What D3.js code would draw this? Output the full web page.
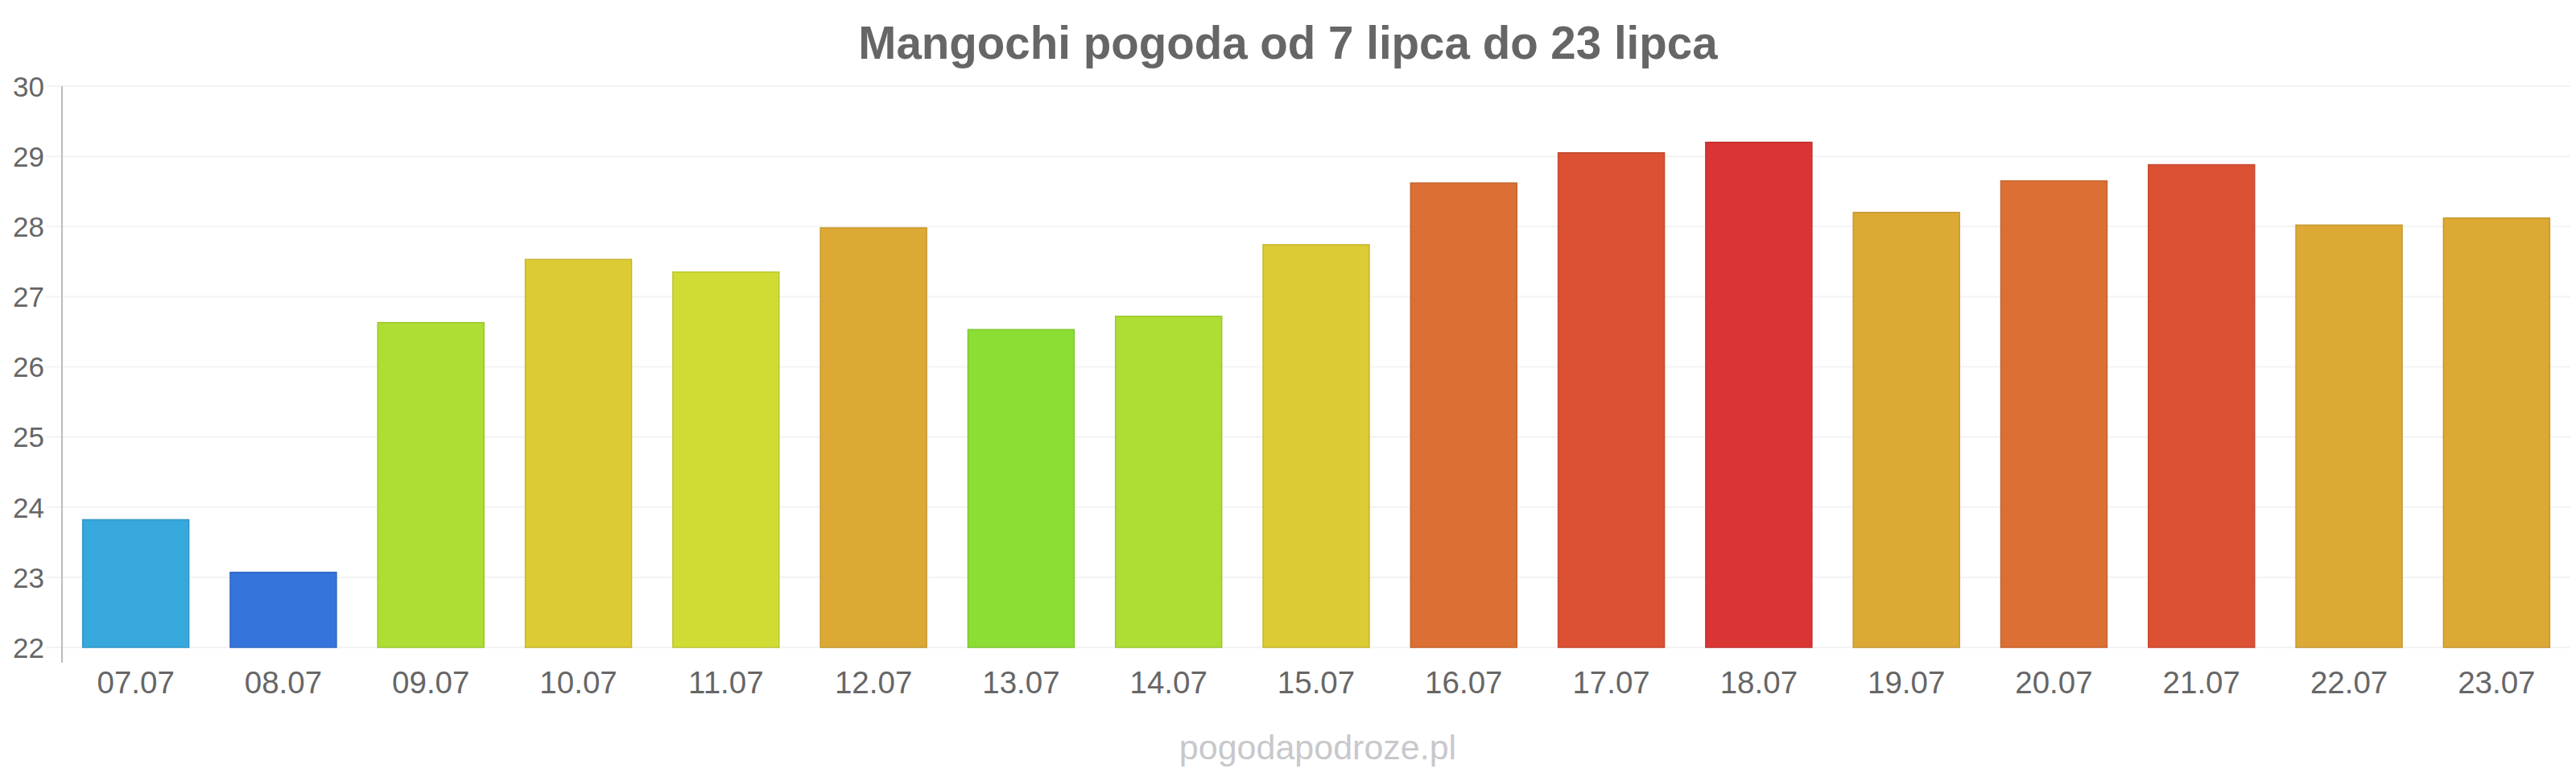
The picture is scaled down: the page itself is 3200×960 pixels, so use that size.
<!DOCTYPE html>
<html>
<head>
<meta charset="utf-8">
<script src="https://cdn.jsdelivr.net/npm/d3@7"></script>
<style>
  body { margin: 0; background: #fff; }
  text { font-family: "Liberation Sans", Arial, sans-serif; }
</style>
</head>
<body>
<div id="chart"></div>
<script>
const width = 3200, height = 960;
const margin = {top: 107, right: 7, bottom: 156, left: 77};

const days = ["07.07", "08.07", "09.07", "10.07", "11.07", "12.07", "13.07", "14.07", "15.07",
              "16.07", "17.07", "18.07", "19.07", "20.07", "21.07", "22.07", "23.07"];
const temps = [23.82, 23.07, 26.63, 27.53, 27.35, 27.98, 26.53, 26.72, 27.74,
               28.62, 29.05, 29.2, 28.2, 28.65, 28.88, 28.02, 28.12];
const colors = ["#36a8dc", "#3574db", "#aedd34", "#dccb34", "#d0dc34", "#dca934", "#8cdd34", "#aedd34", "#dccb34",
                "#dc6f34", "#dc5134", "#da3434", "#dca934", "#dc6f34", "#dc5134", "#dca934", "#dca934"];
const yTicks = [22, 23, 24, 25, 26, 27, 28, 29, 30];

let svg = d3.select("#chart")
    .append("svg")
    .attr("width", width)
    .attr("height", height);

let x = d3.scaleBand()
    .domain(days)
    .range([margin.left, width - margin.right])
    .paddingInner(0.28)
    .paddingOuter(0.14);

let y = d3.scaleLinear()
    .domain([22, 30])
    .range([height - margin.bottom, margin.top]);

// grid lines
svg.append("g")
    .selectAll("line")
    .data(yTicks)
    .enter()
    .append("line")
    .attr("x1", margin.left - 20)
    .attr("x2", width - margin.right)
    .attr("y1", d => y(d))
    .attr("y2", d => y(d))
    .attr("stroke", "#f3f3f3")
    .attr("stroke-width", 2);

// y axis
let yAxis = svg.append("g")
    .attr("transform", `translate(${margin.left - 20}, 0)`)
    .call(d3.axisLeft(y).tickValues(yTicks).tickSize(0).tickPadding(2));
yAxis.select(".domain").remove();
yAxis.selectAll("text")
    .attr("fill", "#666")
    .style("font-size", "35px")
    .attr("dy", "0.35em");

svg.append("line")
    .attr("x1", margin.left)
    .attr("x2", margin.left)
    .attr("y1", margin.top)
    .attr("y2", height - margin.bottom + 19)
    .attr("stroke", "#bbb")
    .attr("stroke-width", 2);

// bars
svg.append("g")
    .selectAll("rect")
    .data(days)
    .enter()
    .append("rect")
    .attr("x", d => x(d))
    .attr("y", (d, i) => y(temps[i]))
    .attr("width", x.bandwidth())
    .attr("height", (d, i) => y(22) - y(temps[i]))
    .attr("fill", (d, i) => colors[i])
    .attr("stroke", (d, i) => d3.color(colors[i]).darker(0.3))
    .attr("stroke-width", 1.5);

// x axis labels
let xAxis = svg.append("g")
    .attr("transform", `translate(0, ${y(22)})`)
    .call(d3.axisBottom(x).tickSize(0).tickPadding(30));
xAxis.select(".domain").remove();
xAxis.selectAll("text")
    .attr("fill", "#666")
    .style("font-size", "38.5px");

svg.append("text")
    .attr("x", 1600)
    .attr("y", 73)
    .attr("text-anchor", "middle")
    .attr("fill", "#666")
    .style("font-size", "56.5px")
    .style("font-weight", "bold")
    .text("Mangochi pogoda od 7 lipca do 23 lipca");

svg.append("text")
    .attr("x", 1637)
    .attr("y", 943)
    .attr("text-anchor", "middle")
    .attr("fill", "#c8c8cc")
    .style("font-size", "43px")
    .text("pogodapodroze.pl");
</script>
</body>
</html>
